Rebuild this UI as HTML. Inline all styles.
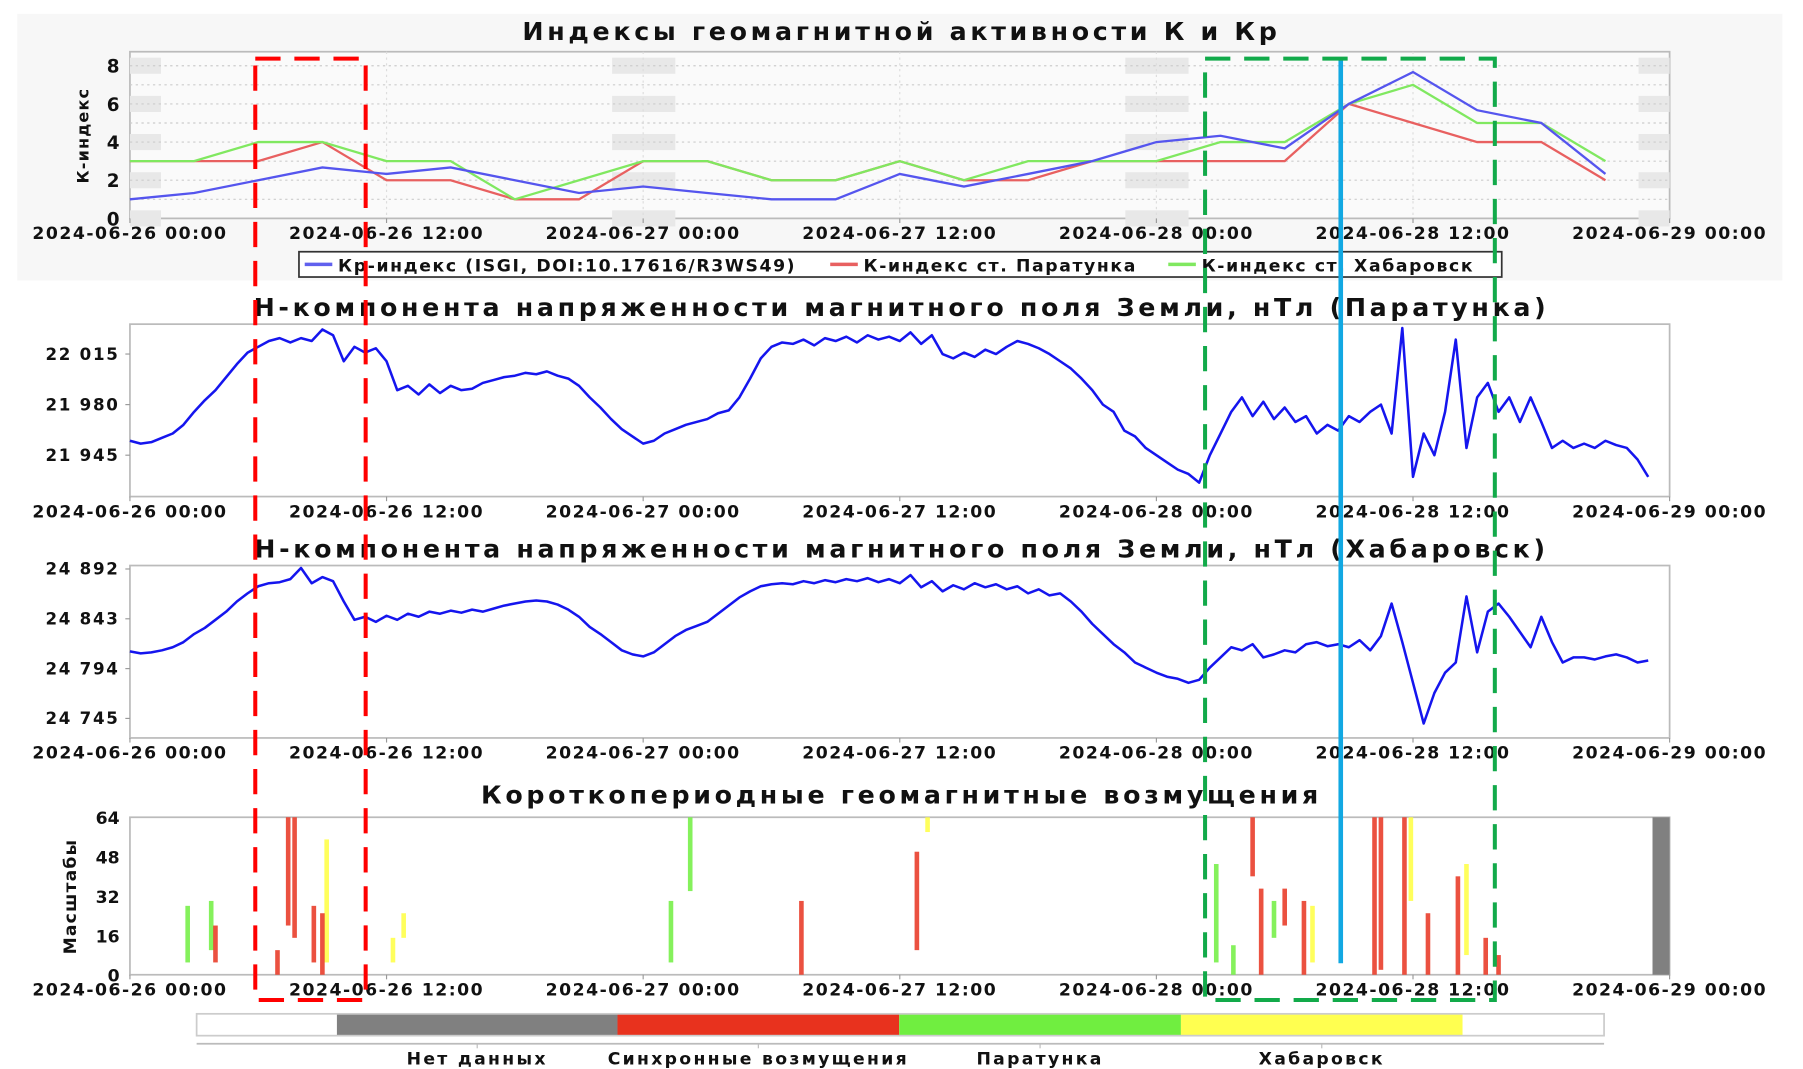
<!DOCTYPE html>
<html><head><meta charset="utf-8">
<style>
html,body{margin:0;padding:0;background:#fff;}
svg{display:block;font-family:"DejaVu Sans","Liberation Sans",sans-serif;}
</style></head>
<body>
<svg id="chart" width="1803" height="1069" viewBox="0 0 1568 930" preserveAspectRatio="none" xmlns="http://www.w3.org/2000/svg">
<rect x="15" y="12" width="1535" height="232" fill="#f7f7f7"/>
<g id="layer"></g>
</svg>
<script>
// ---- data ----
const kpTimes = [0,3,6,9,12,15,18,21,24,27,30,33,36,39,42,45,48,51,54,57,60,63,66,69];
const kpValues = [1,1.33,2,2.67,2.33,2.67,2,1.33,1.67,1.33,1,1,2.33,1.67,2.33,3,4,4.33,3.67,6,7.67,5.67,5,2.33];
const kParatunka = [3,3,3,4,2,2,1,1,3,3,2,2,3,2,2,3,3,3,3,6,5,4,4,2];
const kKhabarovsk = [3,3,4,4,3,3,1,2,3,3,2,2,3,2,3,3,3,4,4,6,7,5,5,3];
const kTicks = [0,2,4,6,8];
const xTickLabels = ["2024-06-26 00:00","2024-06-26 12:00","2024-06-27 00:00","2024-06-27 12:00","2024-06-28 00:00","2024-06-28 12:00","2024-06-29 00:00"];
const xTickHours = [0,12,24,36,48,60,72];
const hStep = 0.5;
const hParatunka = [21955,21953,21954,21957,21960,21966,21975,21983,21990,21999,22008,22016,22020,22024,22026,22023,22026,22024,22032,22028,22010,22020,22016,22019,22010,
21990,21993,21987,21994,21988,21993,21990,21991,21995,21997,21999,22000,22002,22001,22003,22000,21998,21993,21985,21978,21970,21963,21958,21953,21955,21960,21963,21966,21968,21970,21974,21976,21985,21998,22012,22020,22023,22022,22025,22021,22026,22024,22027,22023,22028,22025,22027,22024,22030,22022,22028,22015,22012,22016,22013,22018,22015,22020,22024,22022,22019,22015,22010,22005,21998,21990,21980,21975,21962,21958,21950,21945,21940,21935,21932,21926,21945,21960,21975,21985,21972,21982,21970,21978,21968,21972,21960,21966,21962,21972,21968,21975,21980,21960,22033,21930,21960,21945,21975,22025,21950,21985,21995,21975,21985,21968,21985,21968,21950,21955,21950,21953,21950,21955,21952,21950,21942,21930];
const hParTicks = [21945,21980,22015];
const hParTickLabels = ["21 945","21 980","22 015"];
const hKhabarovsk = [24811,24809,24810,24812,24815,24820,24828,24834,24842,24850,24860,24868,24875,24878,24879,24882,24893,24878,24884,24880,24860,24842,24845,24840,24846,24842,24848,24845,24850,24848,24851,24849,24852,24850,24853,24856,24858,24860,24861,24860,24857,24852,24845,24835,24828,24820,24812,24808,24806,24810,24818,24826,24832,24836,24840,24848,24856,24864,24870,24875,24877,24878,24877,24880,24878,24881,24879,24882,24880,24883,24879,24882,24878,24886,24874,24880,24870,24876,24872,24878,24874,24877,24872,24875,24868,24872,24866,24868,24860,24850,24838,24828,24818,24810,24800,24795,24790,24786,24784,24780,24783,24795,24805,24815,24812,24818,24805,24808,24812,24810,24818,24820,24816,24818,24815,24822,24812,24826,24858,24820,24780,24740,24770,24790,24800,24865,24810,24850,24858,24845,24830,24815,24845,24820,24800,24805,24805,24803,24806,24808,24805,24800,24802];
const hKhaTicks = [24745,24794,24843,24892];
const hKhaTickLabels = ["24 745","24 794","24 843","24 892"];
// disturbance events: hour, scale low, scale high, type (0 none,1 sync,2 paratunka,3 khabarovsk)
const evHour = [2.7,3.8,4.0,6.9,7.4,7.7,8.6,9.2,9.0,12.3,12.8,25.3,26.2,31.4,36.8,37.3,50.8,51.6,52.5,52.9,53.5,54.0,54.9,55.3,58.2,58.5,59.6,59.9,60.7,62.1,62.5,63.4,64.0];
const evLow = [5,10,5,0,20,15,5,5,0,5,15,5,34,0,10,58,5,0,40,0,15,20,0,5,0,2,0,30,0,0,8,0,0];
const evHigh = [28,30,20,10,64,64,28,55,25,15,25,30,64,30,50,64,45,12,64,35,30,35,30,28,64,64,64,64,25,40,45,15,8];
const evType = [2,2,1,1,1,1,1,3,1,3,3,2,2,1,1,3,2,2,1,1,2,1,1,3,1,1,1,3,1,1,3,1,1];
const legendLabels = ["Нет данных","Синхронные возмущения","Паратунка","Хабаровск"];

// ---- drawing ----
const NS="http://www.w3.org/2000/svg";
const L=document.getElementById('layer');
function el(tag,attrs,parent){const e=document.createElementNS(NS,tag);for(const k in attrs)e.setAttribute(k,attrs[k]);(parent||L).appendChild(e);return e;}
function txt(s,attrs,parent){const e=el('text',attrs,parent);e.textContent=s;return e;}
const X0=113,X1=1452;
const xs=h=>X0+(X1-X0)*h/72;

function frame(name,y0,y1,shade){
  el('rect',{x:X0,y:y0,width:X1-X0,height:y1-y0,fill:shade,stroke:'#bbb','stroke-width':1.5,});
}
function xAxis(name,y){
  const g=el('g',{});
  
  
  xTickHours.forEach((h,i)=>{
    el('line',{x1:xs(h),x2:xs(h),y1:y,y2:y+4,stroke:'#999'},g);
    const t=txt(xTickLabels[i],{x:xs(h),y:y+18,'text-anchor':'middle','font-size':15,'letter-spacing':1.3,'font-weight':'bold',fill:'#111'},g);
    
    
  });
}
function title(s,y,name){const t=txt(s,{x:784,y:y,'text-anchor':'middle','font-size':22,'letter-spacing':3.2,'font-weight':'bold',fill:'#111'});}

// Panel 1
title("Индексы геомагнитной активности К и Кр",35,'k-index-title');
const P1={y0:45,y1:190};
const ky=v=>190-v*16.6;
frame('k-index',P1.y0,P1.y1,'#fafafa');
[0,24,48,72].forEach((h,i)=>{
  kTicks.forEach(v=>{
    const x=i==0?X0:(i==3?X1-27:xs(h)-27);
    const w=(i==0||i==3)?27:55;
    el('rect',{x:x,y:Math.max(P1.y0+1,ky(v)-7),width:w,height:14,fill:'#e8e8e8'});
  });
});
for(let v=1;v<=8;v++){el('line',{x1:X0,x2:X1,y1:ky(v),y2:ky(v),stroke:'#ccc','stroke-dasharray':'2,3'});}
xTickHours.slice(1,6).forEach(h=>el('line',{x1:xs(h),x2:xs(h),y1:P1.y0,y2:P1.y1,stroke:'#ddd','stroke-dasharray':'2,3'}));
kTicks.forEach(v=>{const t=txt(String(v),{x:104,y:ky(v)+6,'text-anchor':'end','font-size':16,'font-weight':'bold',fill:'#111'});});
const kyl=txt("К-индекс",{x:0,y:0,transform:'translate(77,118) rotate(-90)','text-anchor':'middle','font-size':14,'letter-spacing':1,'font-weight':'bold',fill:'#111'});

function kline(vals,color,name){
  const p=el('polyline',{points:vals.map((v,i)=>xs(kpTimes[i])+','+ky(v)).join(' '),fill:'none',stroke:color,'stroke-width':2});
  
}
kline(kParatunka,'#e86060','k-paratunka-line');
kline(kKhabarovsk,'#80e860','k-khabarovsk-line');
kline(kpValues,'#5555ee','kp-index-line');
xAxis('k-index',190);
// legend
const lg=el('g',{});
el('rect',{x:260,y:219,width:1046,height:22,fill:'#fff',stroke:'#333','stroke-width':1.5},lg);
[["Кр-индекс (ISGI, DOI:10.17616/R3WS49)",'#6060ee',265],["К-индекс ст. Паратунка",'#e86060',722],["К-индекс ст. Хабаровск",'#80e860',1016]].forEach(a=>{
  el('line',{x1:a[2],x2:a[2]+24,y1:230,y2:230,stroke:a[1],'stroke-width':3},lg);
  const t=txt(a[0],{x:a[2]+29,y:236,'font-size':15,'letter-spacing':1.4,'font-weight':'bold',fill:'#111'},lg);
  
});

// Panel 2 & 3
function hPanel(name,ttl,ty,y0,y1,vals,ticks,tickLabels,tMin,tMax,pMin,pMax){
  title(ttl,ty,name+'-title');
  frame(name,y0,y1,'#fff');
  const yv=v=>pMin+(v-tMin)*(pMax-pMin)/(tMax-tMin);
  ticks.forEach((v,i)=>{
    el('line',{x1:X0-4,x2:X0,y1:yv(v),y2:yv(v),stroke:'#999'});
    const t=txt(tickLabels[i],{x:104,y:yv(v)+5,'text-anchor':'end','font-size':14.5,'letter-spacing':1.5,'font-weight':'bold',fill:'#111'});
    
  });
  const p=el('polyline',{points:vals.map((v,i)=>xs(i*hStep)+','+yv(v)).join(' '),fill:'none',stroke:'#1515ee','stroke-width':2.2,'stroke-linejoin':'round'});
  
  xAxis(name,y1);
}
hPanel('paratunka',"Н-компонента напряженности магнитного поля Земли, нТл (Паратунка)",275,282,432,hParatunka,hParTicks,hParTickLabels,21945,22015,396,308);
hPanel('khabarovsk',"Н-компонента напряженности магнитного поля Земли, нТл (Хабаровск)",485,492,642,hKhabarovsk,hKhaTicks,hKhaTickLabels,24745,24892,625,495);

// Panel 4
title("Короткопериодные геомагнитные возмущения",699,'disturbance-title');
const P4={y0:711,y1:848};
const sy=v=>P4.y1-(P4.y1-P4.y0)*v/64;
frame('disturbance',P4.y0,P4.y1,'#fff');
[0,16,32,48,64].forEach(v=>{
  const t=txt(String(v),{x:104,y:sy(v)+6,'text-anchor':'end','font-size':15,'font-weight':'bold',fill:'#111'});
  
});
const syl=txt("Масштабы",{x:0,y:0,transform:'translate(66,780) rotate(-90)','text-anchor':'middle','font-size':15,'letter-spacing':1,'font-weight':'bold',fill:'#111'});

const evColors=['#808080','#e8321e','#70ee40','#ffff40'];
evHour.forEach((h,i)=>{
  const r=el('rect',{x:xs(h)-2,y:sy(evHigh[i]),width:4,height:sy(evLow[i])-sy(evHigh[i]),fill:evColors[evType[i]],opacity:0.85});
  
});
const nd=el('rect',{x:xs(71.2),y:P4.y0,width:X1-xs(71.2),height:P4.y1-P4.y0,fill:'#808080'});

xAxis('disturbance',848);

// annotations
const cy=el('line',{x1:1166,x2:1166,y1:51,y2:838,stroke:'#12a8e2','stroke-width':4});

const rb=el('rect',{x:222,y:51,width:96,height:819,fill:'none',stroke:'#ff0000','stroke-width':3.5,'stroke-dasharray':'22,12'});

const gb=el('rect',{x:1048,y:51,width:252,height:819,fill:'none',stroke:'#12aa4a','stroke-width':3.5,'stroke-dasharray':'22,12'});


// color legend
const cg=el('g',{});
const segX=[171,293,537,782,1027,1272,1395];
const segC=['#ffffff','#808080','#e8321e','#70ee40','#ffff50','#ffffff'];
for(let i=0;i<6;i++){el('rect',{x:segX[i],y:882,width:segX[i+1]-segX[i],height:19,fill:segC[i]},cg);}
el('rect',{x:171,y:882,width:1224,height:19,fill:'none',stroke:'#ccc','stroke-width':1.5},cg);
el('line',{x1:171,x2:1395,y1:908,y2:908,stroke:'#bbb','stroke-width':1.5},cg);
legendLabels.forEach((s,i)=>{
  const cx=(segX[i+1]+segX[i+2])/2;
  el('line',{x1:cx,x2:cx,y1:908,y2:912,stroke:'#bbb'},cg);
  const t=txt(s,{x:cx,y:926,'text-anchor':'middle','font-size':15,'letter-spacing':2,'font-weight':'bold',fill:'#111'},cg);
  
});
</script>
</body></html>
